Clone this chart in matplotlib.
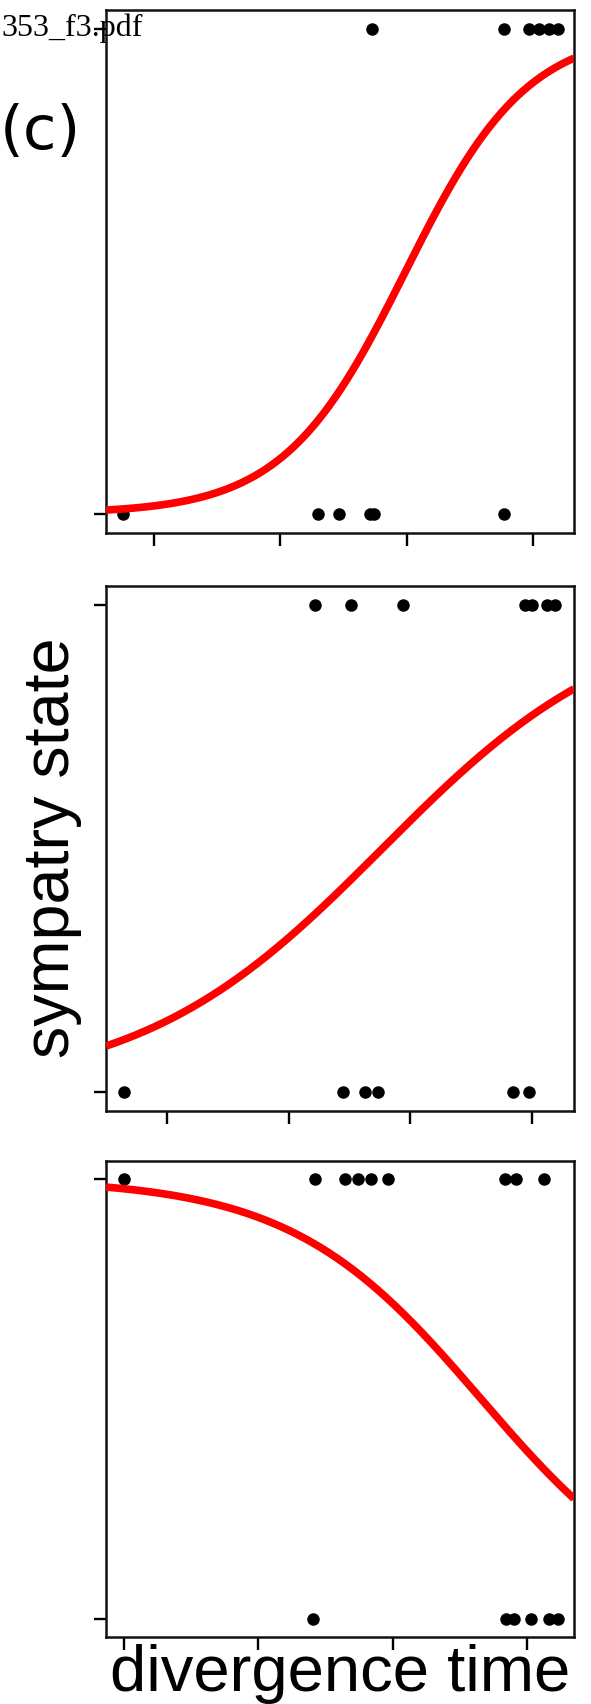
import matplotlib
matplotlib.use("Agg")
import matplotlib.pyplot as plt
import numpy as np

# ---------------- data ----------------
# panel (top)
time_a_state0 = [0.754, 2.294, 2.468, 2.706, 2.738, 3.770]
time_a_state1 = [2.722, 3.772, 3.971, 4.050, 4.130, 4.196]
fit_a = [-6.19, 2.07]          # logistic intercept, slope

# panel (middle)
time_b_state0 = [0.647, 2.449, 2.627, 2.731, 3.846, 3.975]
time_b_state1 = [2.219, 2.509, 2.937, 3.942, 3.997, 4.120, 4.190]
fit_b = [-2.77, 1.00]

# panel (bottom)
time_c_state0 = [2.410, 3.843, 3.905, 4.030, 4.166, 4.229]
time_c_state1 = [1.000, 2.420, 2.644, 2.741, 2.843, 2.965, 3.836, 3.918, 4.129]
fit_c = [5.16, -1.41]

x_ticks = [1, 2, 3, 4]
y_ticks = [0, 1]
xlims = [(0.619, 4.325), (0.499, 4.345), (0.866, 4.351)]

ylabel = "sympatry state"
xlabel = "divergence time"
panel_tag = "(c)"
file_tag = "353_f3.pdf"

# ---------------- layout ----------------
W, H = 591, 1704
fig = plt.figure(figsize=(W / 100, H / 100), dpi=100)
fig.patch.set_facecolor("white")


def rect(l, t, r, b):
    return [l / W, 1 - b / H, (r - l) / W, (b - t) / H]


rects = [rect(106, 10, 574, 533), rect(106, 586, 574, 1111), rect(106, 1161, 574, 1637)]
panels = [
    (time_a_state0, time_a_state1, fit_a),
    (time_b_state0, time_b_state1, fit_b),
    (time_c_state0, time_c_state1, fit_c),
]

for (x0, x1, fit), rc, xl in zip(panels, rects, xlims):
    ax = fig.add_axes(rc)
    ax.plot(x0, np.zeros(len(x0)), "o", color="black", ms=9, mew=0, zorder=2)
    ax.plot(x1, np.ones(len(x1)), "o", color="black", ms=9, mew=0, zorder=2)
    xs = np.linspace(xl[0], xl[1], 400)
    ys = 1.0 / (1.0 + np.exp(-(fit[0] + fit[1] * xs)))
    ax.plot(xs, ys, color="#ff0000", lw=5.5, zorder=3, solid_capstyle="butt")
    ax.set_xlim(*xl)
    ax.set_ylim(-0.04, 1.04)
    ax.set_xticks(x_ticks)
    ax.set_yticks(y_ticks)
    ax.set_xticklabels([])
    ax.set_yticklabels([])
    ax.tick_params(direction="out", length=9, width=1.7, color="black")
    for s in ax.spines.values():
        s.set_linewidth(1.8)
        s.set_color("#111111")

# ---------------- texts ----------------
fig.text(1 / W, 1 - 36 / H, file_tag, ha="left", va="baseline",
         family="Liberation Serif", fontsize=23, color="black", zorder=10)
fig.text(0 / W, 1 - 149 / H, panel_tag, ha="left", va="baseline",
         family="DejaVu Sans", fontsize=44, color="black")
fig.text(52 / W, 1 - 848 / H, ylabel, ha="center", va="center", rotation=90,
         family="Liberation Sans", fontsize=46.5, color="black")
fig.text(340 / W, 1 - 1691 / H, xlabel, ha="center", va="baseline",
         family="Liberation Sans", fontsize=47, color="black")

fig.savefig("out.png", dpi=100, facecolor="white")
